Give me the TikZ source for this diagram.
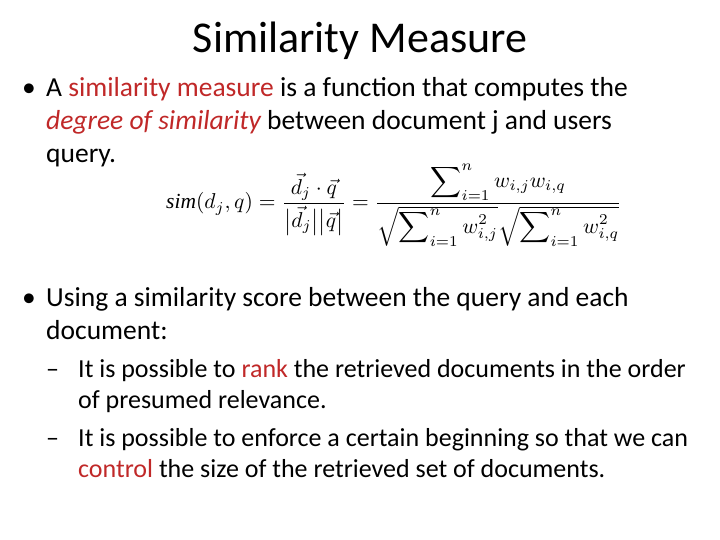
\documentclass[tikz,border=0pt]{standalone}
\usepackage{fontspec}
\setmainfont{Carlito}
\newfontfamily\tms{Liberation Serif}
\usepackage{amsmath}
\definecolor{hl}{RGB}{192,40,40}
\begin{document}
\begin{tikzpicture}[x=1pt,y=-1pt,
  body/.style={anchor=base west,inner sep=0pt,font=\fontsize{27.5}{32}\selectfont},
  sub/.style={anchor=base west,inner sep=0pt,font=\fontsize{26}{30}\selectfont},
  title/.style={anchor=base,inner sep=0pt,font=\fontsize{44}{50}\selectfont}]
\useasboundingbox (0,0) rectangle (720,540);
\node[title] (t) at (360,53) {Similarity Measure};
\node[body] (b1) at (22,97) {•};
\node[body] (l1) at (46,97) {A \textcolor{hl}{similarity measure} is a function that computes the};
\node[body] (l2) at (46,130) {\textcolor{hl}{\itshape degree of similarity} between document j and users};
\node[body] (l3) at (46,163) {query.};
\node[inner sep=0pt] (f) at (394,205) {\scalebox{2.15}{$\text{\tms\itshape sim}(d_j,q)=\dfrac{\vec{d}_j\cdot\vec{q}}{\bigl|\vec{d}_j\bigr|\bigl|\vec{q}\bigr|}=\dfrac{\displaystyle\sum\nolimits_{i=1}^{n}w_{i,j}w_{i,q}}{\sqrt{\displaystyle\sum\nolimits_{i=1}^{n}w_{i,j}^2}\sqrt{\displaystyle\sum\nolimits_{i=1}^{n}w_{i,q}^2}}$}};
\node[body] (b2) at (22,306) {•};
\node[body] (m1) at (46,306) {Using a similarity score between the query and each};
\node[body] (m2) at (46,339) {document:};
\node[sub] (d1) at (46,377) {–};
\node[sub] (s1) at (78,377) {It is possible to \textcolor{hl}{rank} the retrieved documents in the order};
\node[sub] (s2) at (78,408) {of presumed relevance.};
\node[sub] (d2) at (46,446) {–};
\node[sub] (s3) at (78,446) {It is possible to enforce a certain beginning so that we can};
\node[sub] (s4) at (78,477) {\textcolor{hl}{control} the size of the retrieved set of documents.};
\end{tikzpicture}
\end{document}
